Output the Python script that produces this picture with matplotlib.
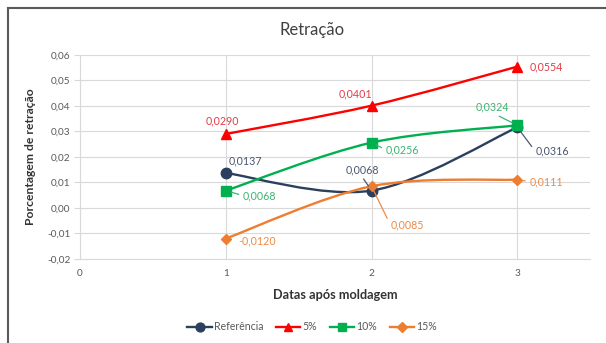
import matplotlib
matplotlib.use("Agg")
import matplotlib.pyplot as plt
from matplotlib.path import Path
from matplotlib.patches import PathPatch
from matplotlib.lines import Line2D
from matplotlib.ticker import FuncFormatter, MultipleLocator
import numpy as np

plt.rcParams["font.family"] = ["Lato", "DejaVu Sans"]

dates = [1, 2, 3]
series_names = ["Referência", "5%", "10%", "15%"]
referencia = [0.0137, 0.0068, 0.0316]
cinco = [0.0290, 0.0401, 0.0554]
dez = [0.0068, 0.0256, 0.0324]
quinze = [-0.0120, 0.0085, 0.0111]

line_colors = ["#2B3F5E", "#FF0000", "#00B050", "#ED7D31"]
label_colors = ["#4A5670", "#E23C46", "#3CB371", "#EE8A45"]
markers = ["o", "^", "s", "D"]
msizes = [7.5, 7.5, 7.5, 5.5]

# label placement per point: (dx px, dy px, ha, leader, relpos)
label_pos = [
    [(20, 12, "center", False, None), (-9, 21, "center", True, (0.45, 0)), (18, -24, "left", True, (0, 0.5))],
    [(-3, 13, "center", False, None), (-16, 12, "center", False, None), (12, 0, "left", False, None)],
    [(17, -5, "left", True, (0, 0.5)), (14, -7, "left", True, (0, 0.5)), (-25, 18, "center", True, (0.5, 0))],
    [(13, -2, "left", False, None), (19, -39, "left", True, (0, 0.5)), (12, -2, "left", True, (0, 0.5))],
]


def smooth_path(xs, ys):
    # excel-like smoothed line drawn as cubic bezier segments
    pts = np.column_stack([xs, ys]).astype(float)
    ext = np.vstack([pts[0], pts, pts[-1]])
    verts = [pts[0]]
    codes = [Path.MOVETO]
    for i in range(len(pts) - 1):
        p0, p1, p2, p3 = ext[i], ext[i + 1], ext[i + 2], ext[i + 3]
        verts += [p1 + (p2 - p0) / 6, p2 - (p3 - p1) / 6, p2]
        codes += [Path.CURVE4] * 3
    return Path(verts, codes)


fig = plt.figure(figsize=(6.06, 3.43), dpi=100)
ax = fig.add_axes([0.132, 0.245, 0.842, 0.595])

data = [referencia, cinco, dez, quinze]
for k, vals in enumerate(data):
    ax.add_patch(PathPatch(smooth_path(dates, vals), fill=False, edgecolor=line_colors[k], lw=1.7, zorder=3 + k))
    ax.plot(dates, vals, linestyle="none", marker=markers[k], ms=msizes[k], color=line_colors[k], zorder=3 + k)
    for i, v in enumerate(vals):
        dx, dy, ha, leader, relpos = label_pos[k][i]
        txt = f"{v:.4f}".replace(".", ",")
        kw = {}
        if leader:
            kw["arrowprops"] = dict(arrowstyle="-", color=label_colors[k], lw=0.9, shrinkA=1, shrinkB=4, relpos=relpos)
        ax.annotate(txt, xy=(dates[i], v), xytext=(dx, dy), textcoords="offset pixels",
                    ha=ha, va="center", fontsize=7.7, color=label_colors[k], zorder=10, **kw)

ax.set_xlim(0, 3.5)
ax.set_ylim(-0.02, 0.06)
ax.xaxis.set_major_locator(MultipleLocator(1))
ax.yaxis.set_major_locator(MultipleLocator(0.01))
ax.yaxis.set_major_formatter(FuncFormatter(lambda v, p: f"{v:.2f}".replace(".", ",").replace("-0,00", "0,00")))
ax.grid(True, color="#D9D9D9", lw=0.8)
ax.set_axisbelow(True)
for s in ["top", "right"]:
    ax.spines[s].set_visible(False)
ax.spines["left"].set_color("#D9D9D9")
ax.spines["bottom"].set_color("#D9D9D9")
ax.tick_params(axis="y", length=4, color="#D9D9D9", labelsize=7.2, labelcolor="#595959", pad=3)
ax.tick_params(axis="x", length=0, labelsize=7.2, labelcolor="#595959", pad=7)

ax.set_xlabel("Datas após moldagem", fontsize=9.2, fontweight="bold", color="#333333", labelpad=8)
ax.set_ylabel("Porcentagem de retração", fontsize=8.7, fontweight="bold", color="#333333", labelpad=8)
fig.text(0.515, 0.912, "Retração", ha="center", va="center", fontsize=12, color="#404040")

handles = [Line2D([0], [0], color=line_colors[k], lw=1.7, marker=markers[k], ms=msizes[k] * 0.85)
           for k in range(4)]
fig.legend(handles, series_names, loc="center", bbox_to_anchor=(0.515, 0.047), ncol=4, frameon=False,
           fontsize=7.6, handlelength=2.3, handletextpad=0.2, columnspacing=1.2, labelcolor="#595959")

# chart frame (top and left edges visible in the reference crop)
fig.add_artist(Line2D([8 / 606, 1.0], [1 - 8 / 343, 1 - 8 / 343], color="#5A5A5A", lw=1.5))
fig.add_artist(Line2D([8 / 606, 8 / 606], [0, 1 - 8 / 343], color="#5A5A5A", lw=1.5))

fig.savefig("out.png", dpi=100)
